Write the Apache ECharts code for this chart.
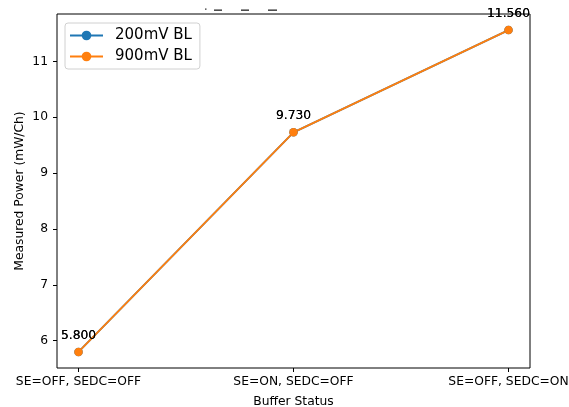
<!DOCTYPE html>
<html>
<head>
<meta charset="utf-8">
<script src="https://cdn.jsdelivr.net/npm/echarts@6/dist/echarts.min.js"></script>
<style>
  html, body { margin: 0; padding: 0; background: #fff; }
  #chart { width: 569px; height: 407px; }
</style>
</head>
<body>
<div id="chart"></div>
<script>
// Buffer configurations along the x axis
const categories = ['SE=OFF, SEDC=OFF', 'SE=ON, SEDC=OFF', 'SE=OFF, SEDC=ON'];
// Measured power per channel (mW/Ch) for each baseline setting
const power200mV = [5.8, 9.73, 11.56];
const power900mV = [5.8, 9.73, 11.56];
const seriesNames = ['200mV BL', '900mV BL'];
// Y tick values
const yTicks = [6, 7, 8, 9, 10, 11];

const FONT = 'DejaVu Sans';
const chart = echarts.init(document.getElementById('chart'), null, { renderer: 'canvas' });

function lineSeries(name, values, color) {
  return {
    name: name,
    type: 'line',
    data: values.map((v, i) => [i, v]),
    symbol: 'circle',
    symbolSize: 8.5,
    lineStyle: { color: color, width: 1.8 },
    itemStyle: { color: color },
    label: {
      show: true,
      position: 'top',
      distance: 6,
      formatter: p => p.value[1].toFixed(3),
      color: '#000',
      fontFamily: FONT,
      fontSize: 12.3
    },
    emphasis: { disabled: true },
    animation: false,
    z: 3
  };
}

chart.setOption({
  animation: false,
  grid: {
    left: 57, right: 39, top: 14, bottom: 39,
    outerBoundsMode: 'none',
    containLabel: false,
    show: true, borderColor: '#000', borderWidth: 1
  },
  legend: {
    orient: 'vertical',
    left: 65, top: 23,
    padding: [5, 8, 5, 4],
    itemWidth: 33, itemHeight: 12, itemGap: 6,
    backgroundColor: 'rgba(255,255,255,0.8)',
    borderColor: '#d0d0d0', borderWidth: 1, borderRadius: 3,
    textStyle: { fontFamily: FONT, fontSize: 15, color: '#000', padding: [0, 0, 0, 7] },
    data: seriesNames
  },
  xAxis: {
    type: 'value',
    min: -0.1, max: 2.1,
    name: 'Buffer Status',
    nameLocation: 'middle',
    nameGap: 28,
    nameTextStyle: { fontFamily: FONT, fontSize: 12.3, color: '#000' },
    axisLine: { show: false, onZero: false },
    axisTick: { show: true, length: 4, lineStyle: { color: '#000' }, customValues: [0, 1, 2] },
    axisLabel: {
      fontFamily: FONT, fontSize: 12.3, color: '#000', margin: 8,
      customValues: [0, 1, 2],
      formatter: v => categories[Math.round(v)]
    },
    splitLine: { show: false }
  },
  yAxis: {
    type: 'value',
    min: 5.512, max: 11.848,
    name: 'Measured Power (mW/Ch)',
    nameLocation: 'middle',
    nameGap: 31,
    nameMoveOverlap: false,
    nameRotate: 90,
    nameTextStyle: { fontFamily: FONT, fontSize: 12.3, color: '#000' },
    axisLine: { show: false, onZero: false },
    axisTick: { show: true, length: 4, lineStyle: { color: '#000' }, customValues: yTicks },
    axisLabel: {
      fontFamily: FONT, fontSize: 12.3, color: '#000', margin: 9,
      customValues: yTicks,
      formatter: v => String(v)
    },
    splitLine: { show: false }
  },
  graphic: [
    // clipped remnants of the figure title above the frame
    { type: 'rect', shape: { x: 205, y: 8.5, width: 1.5, height: 1.2 }, style: { fill: '#333' } },
    { type: 'rect', shape: { x: 214, y: 9.5, width: 8, height: 1.3 }, style: { fill: '#222' } },
    { type: 'rect', shape: { x: 241, y: 9.5, width: 8, height: 1.3 }, style: { fill: '#222' } },
    { type: 'rect', shape: { x: 268, y: 9.5, width: 9, height: 1.3 }, style: { fill: '#222' } }
  ],
  series: [
    lineSeries(seriesNames[0], power200mV, '#1f77b4'),
    lineSeries(seriesNames[1], power900mV, '#ff7f0e')
  ]
});
</script>
</body>
</html>
